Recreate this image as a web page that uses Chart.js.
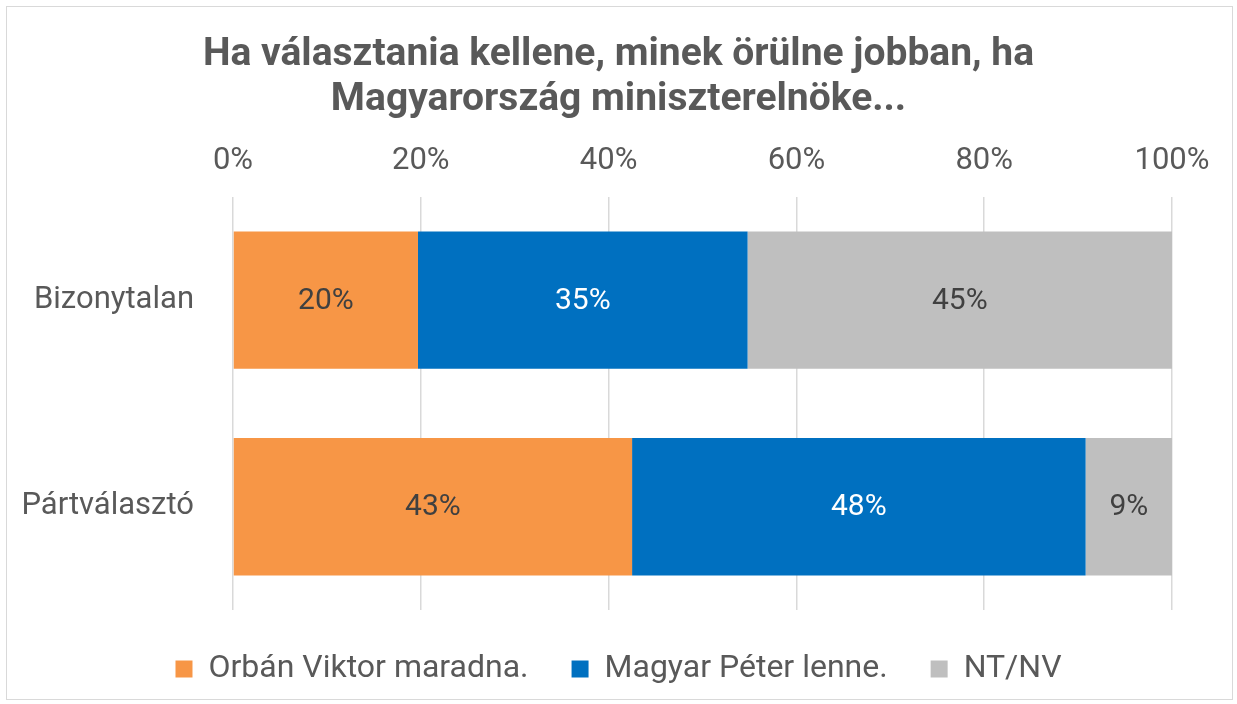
<!DOCTYPE html>
<html>
<head>
<meta charset="utf-8">
<script src="https://cdn.jsdelivr.net/npm/chart.js@4"></script>
<style>
  html, body { margin: 0; padding: 0; background: #fff; }
  #wrap { position: absolute; left: 6px; top: 6px; width: 1225px; height: 692px; border: 1px solid #d9d9d9; }
  canvas { position: absolute; left: 0; top: 0; }
</style>
</head>
<body>
<div id="wrap"></div>
<canvas id="c" width="1237" height="704"></canvas>
<script>
// data
const categories = ['Bizonytalan', 'Pártválasztó'];
const orban = [19.7, 42.5];
const magyar = [35.1, 48.3];
const ntnv = [45.2, 9.2];
const seriesNames = ['Orbán Viktor maradna.', 'Magyar Péter lenne.', 'NT/NV'];
const tickValues = [0, 20, 40, 60, 80, 100];

const FONT = '"Roboto", sans-serif';
const GREY = '#595959';

// value labels in the middle of each segment
const barLabels = {
    id: 'barLabels',
    afterDatasetsDraw(chart) {
        const ctx = chart.ctx;
        ctx.save();
        ctx.font = '30px ' + FONT;
        ctx.textAlign = 'center';
        ctx.textBaseline = 'middle';
        chart.data.datasets.forEach((ds, i) => {
            const meta = chart.getDatasetMeta(i);
            meta.data.forEach((bar, j) => {
                ctx.fillStyle = ds.labelColor;
                ctx.fillText(Math.round(ds.data[j]) + '%', (bar.x + bar.base) / 2, bar.y + 1);
            });
        });
        ctx.restore();
    }
};

new Chart(document.getElementById('c').getContext('2d'), {
    type: 'bar',
    data: {
        labels: categories,
        datasets: [
            { label: seriesNames[0], data: orban, backgroundColor: '#f79646', labelColor: '#404040' },
            { label: seriesNames[1], data: magyar, backgroundColor: '#0070c0', labelColor: '#ffffff' },
            { label: seriesNames[2], data: ntnv, backgroundColor: '#bfbfbf', labelColor: '#404040' }
        ]
    },
    options: {
        indexAxis: 'y',
        responsive: false,
        animation: false,
        layout: { padding: { left: 20, right: 20, top: 33, bottom: 9 } },
        datasets: { bar: { barPercentage: 0.665, categoryPercentage: 1 } },
        scales: {
            x: {
                position: 'top',
                stacked: true,
                min: 0,
                max: 100,
                afterBuildTicks: (axis) => { axis.ticks = tickValues.map(v => ({ value: v })); },
                ticks: { color: GREY, font: { family: FONT, size: 31 }, padding: 17, callback: v => v + '%' },
                grid: { color: '#d9d9d9', lineWidth: 1.5, drawTicks: false },
                border: { display: false }
            },
            y: {
                stacked: true,
                ticks: { color: GREY, font: { family: FONT, size: 31 }, padding: 31 },
                grid: { display: false },
                border: { display: false },
                afterFit: (axis) => { axis.width = 213; }
            },
            // empty right-hand margin so the title stays centred on the page
            yRight: {
                position: 'right',
                display: true,
                ticks: { display: false },
                grid: { display: false },
                border: { display: false },
                afterFit: (axis) => { axis.width = 45; }
            }
        },
        plugins: {
            title: {
                display: true,
                text: ['Ha választania kellene, minek örülne jobban, ha', 'Magyarország miniszterelnöke...'],
                color: GREY,
                font: { family: FONT, size: 39, weight: 'bold', lineHeight: 1.15 },
                padding: { top: 0, bottom: 3 }
            },
            legend: {
                position: 'bottom',
                labels: { color: GREY, font: { family: FONT, size: 32 }, boxWidth: 17, boxHeight: 17, padding: 43 }
            },
            tooltip: { enabled: false }
        }
    },
    plugins: [barLabels]
});
</script>
</body>
</html>
